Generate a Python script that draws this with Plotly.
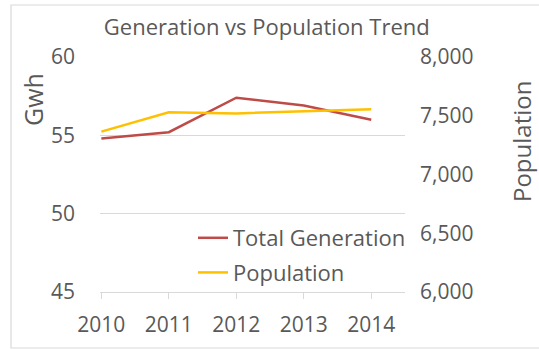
import plotly.graph_objects as go

# Yearly figures
years = ["2010", "2011", "2012", "2013", "2014"]
total_generation = [54.8, 55.2, 57.4, 56.9, 56.0]   # Gwh
population = [7365, 7530, 7520, 7535, 7555]

TEXT = "#595959"
GRID = "#D9D9D9"
FONT = "Open Sans"

fig = go.Figure()
fig.add_trace(go.Scatter(
    x=years, y=total_generation, name="Total Generation", mode="lines",
    line=dict(color="#BE4B48", width=2.5), legendgroup="g1",
))
fig.add_trace(go.Scatter(
    x=years, y=population, name="Population", mode="lines",
    line=dict(color="#FFC000", width=2.5), yaxis="y2", legendgroup="g2",
))

# plot area: x 100..405 px, y 57..292 px
L, R, T, B = 100, 134, 57, 58
W, H = 539 - L - R, 350 - T - B


def px_x(x):
    return (x - L) / W


def px_y(y):
    return (350 - B - y) / H


fig.update_layout(
    width=539, height=350,
    margin=dict(l=L, r=R, t=T, b=B),
    paper_bgcolor="white", plot_bgcolor="white",
    font=dict(family=FONT, color=TEXT, size=21),
    title=dict(text="Generation vs Population Trend", x=0.495, xanchor="center",
               xref="container", y=1 - 27 / 350, yanchor="middle",
               font=dict(size=22, color=TEXT, family=FONT)),
    xaxis=dict(type="category", range=[-0.02, 4.5], showgrid=False,
               showline=True, linecolor=GRID, linewidth=1,
               ticks="outside", tickcolor=GRID, ticklen=6,
               ticklabelstandoff=8, tickfont=dict(size=21)),
    yaxis=dict(range=[45, 60], dtick=5, tick0=45, showgrid=True,
               gridcolor=GRID, gridwidth=1, zeroline=False, showline=False,
               ticks="", ticklabelstandoff=24, tickfont=dict(size=21)),
    yaxis2=dict(range=[6000, 8000], dtick=500, tick0=6000, overlaying="y",
                side="right", showgrid=False, zeroline=False, showline=False,
                tickformat=",", ticks="", ticklabelstandoff=14,
                tickfont=dict(size=21)),
    legend=dict(x=px_x(193), y=px_y(217), xanchor="left", yanchor="top",
                bgcolor="rgba(0,0,0,0)", font=dict(size=22, color=TEXT),
                tracegroupgap=3, itemwidth=30),
    showlegend=True,
    shapes=[dict(type="rect", xref="paper", yref="paper",
                 x0=px_x(11), x1=px_x(560), y0=px_y(348), y1=px_y(5),
                 line=dict(color=GRID, width=1.2), fillcolor="rgba(0,0,0,0)",
                 layer="below")],
    annotations=[
        dict(text="Gwh", textangle=-90, xref="paper", yref="paper",
             x=px_x(33), y=px_y(100), xanchor="center", yanchor="middle",
             showarrow=False, font=dict(size=25, color=TEXT, family=FONT)),
        dict(text="Population", textangle=-90, xref="paper", yref="paper",
             x=px_x(521), y=px_y(142), xanchor="center", yanchor="middle",
             showarrow=False, font=dict(size=24, color=TEXT, family=FONT)),
    ],
)

fig.write_html("out.html")
